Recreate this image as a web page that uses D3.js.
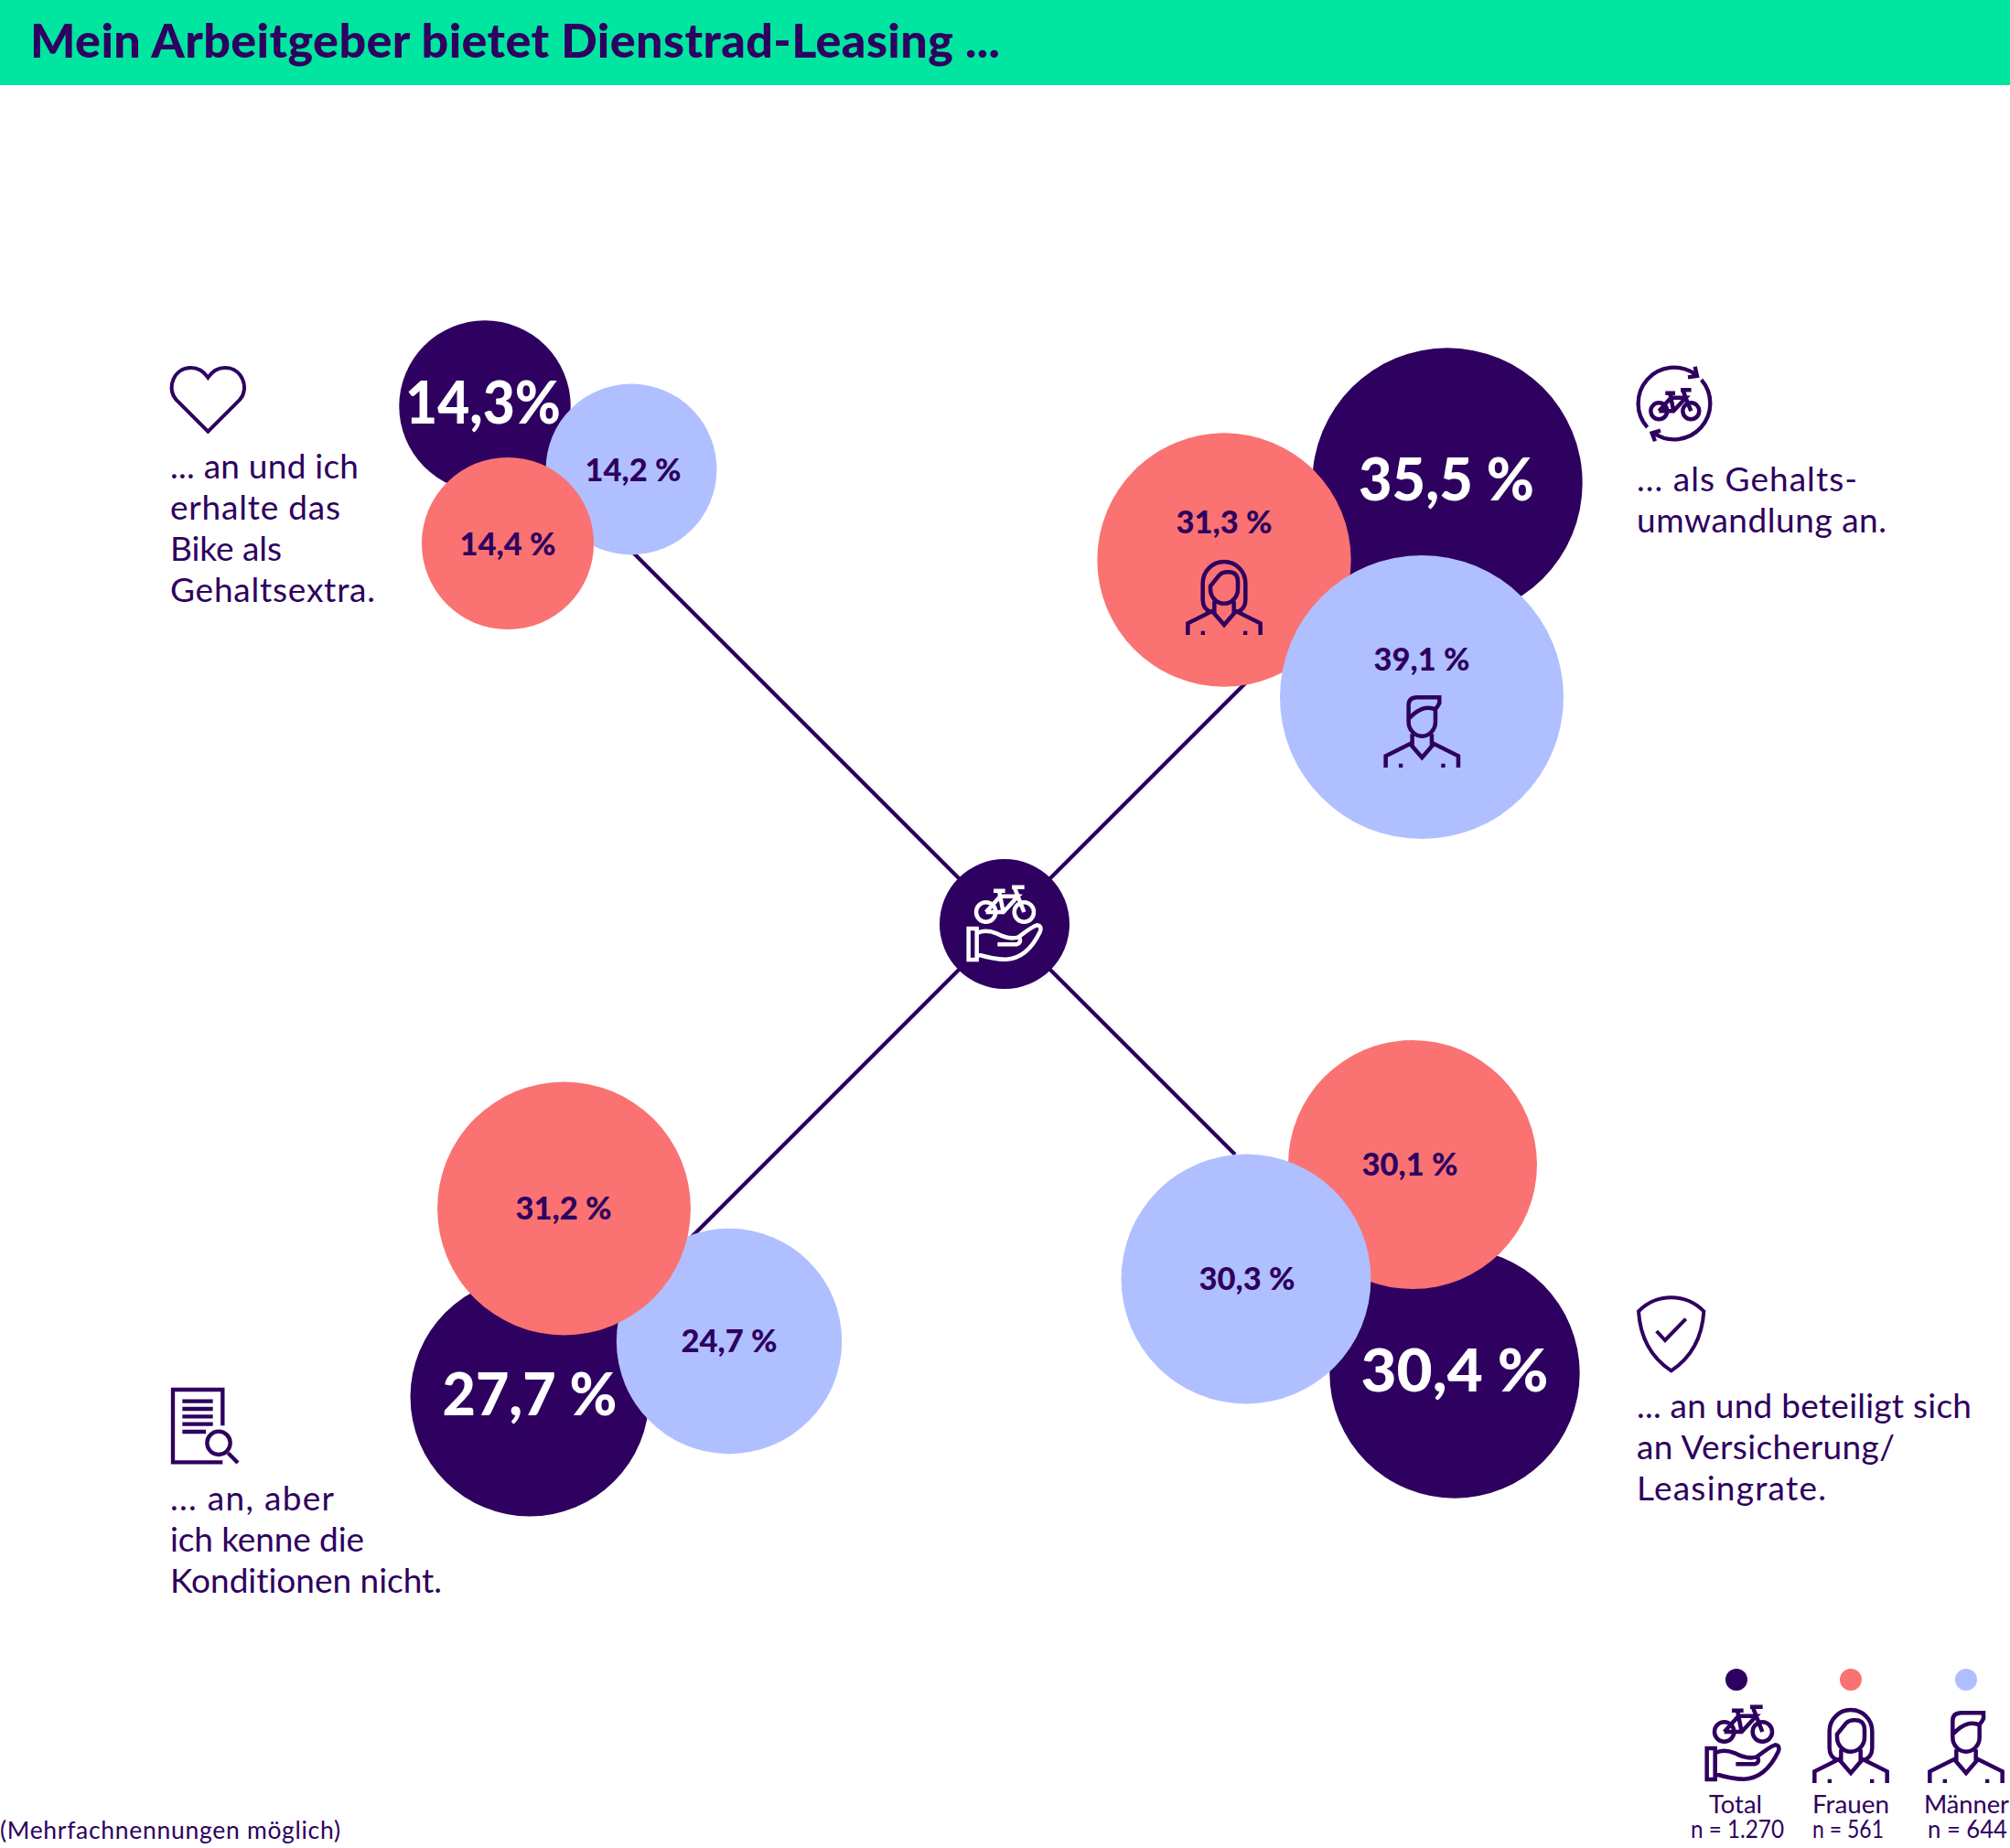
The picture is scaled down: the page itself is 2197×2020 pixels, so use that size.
<!DOCTYPE html>
<html lang="de"><head><meta charset="utf-8">
<style>html,body{margin:0;padding:0;background:#fff}svg{display:block}text{font-family:Lato,sans-serif;font-variant-ligatures:none}</style>
<script src="https://cdn.jsdelivr.net/npm/d3@7"></script></head><body>
<script>
// ---------- data ----------
const titleText = "Mein Arbeitgeber bietet Dienstrad-Leasing ...";
const noteText = "(Mehrfachnennungen möglich)";
const groups = ["Total", "Frauen", "Männer"];
const sampleSizes = ["n = 1.270", "n = 561", "n = 644"];
const categories = ["extra", "umwandlung", "beteiligung", "unbekannt"];
const totalValues = [14.3, 35.5, 30.4, 27.7];
const womenValues = [14.4, 31.3, 30.1, 31.2];
const menValues = [14.2, 39.1, 30.3, 24.7];
const categoryLabels = [
  ["... an und ich", "erhalte das", "Bike als", "Gehaltsextra."],
  ["... als Gehalts-", "umwandlung an."],
  ["... an und beteiligt sich", "an Versicherung/", "Leasingrate."],
  ["... an, aber", "ich kenne die", "Konditionen nicht."]
];

// ---------- layout (separate from data) ----------
const W = 2197, H = 2020;
const C = {ink:"#2E005F", green:"#00E6A0", coral:"#FA7272", blue:"#B0BFFF"};
const colorOf = {Total:C.ink, Frauen:C.coral, "Männer":C.blue};
const r = d3.scaleSqrt().domain([0, 39.1]).range([0, 155]);
const hub = {x:1098, y:1010, r:71};
const lineEnds = [[690,602],[1400,708],[1350,1262],[750,1358]];
const centres = {
  Total:[[530,444],[1582,528],[1590,1501],[579,1527]],
  Frauen:[[555,594],[1338,612],[1544,1273],[616.5,1321]],
  "Männer":[[690,513],[1554,762],[1362,1398],[797,1466]]
};
const order = [["Total","Männer","Frauen"],["Total","Frauen","Männer"],["Total","Frauen","Männer"],["Total","Männer","Frauen"]];
const labelPos = {
  Total:[[528,463],[1581,547],[1590,1521],[579,1547]],
  Frauen:[[555,607],[1338,583],[1541,1285],[616,1333]],
  "Männer":[[692,526],[1554,733],[1363,1410],[797,1478]]
};
const totalWidths = [170,192,205,191];
const textPos = [[186,523],[1789,537],[1789,1550],[186,1651]];
const lineWidths = [[206,186,122,224],[241,273],[366,282,207],[179,212,297]];
const fmt = d3.formatLocale({decimal:",",thousands:".",grouping:[3],currency:["","€"]}).format(".1f");
const valuesOf = {Total:totalValues, Frauen:womenValues, "Männer":menValues};

const svg = d3.select("body").append("svg").attr("width",W).attr("height",H).attr("viewBox",[0,0,W,H]);
svg.append("rect").attr("width",W).attr("height",H).attr("fill","#fff");
svg.append("rect").attr("width",W).attr("height",93).attr("fill",C.green);
svg.append("text").text(titleText).attr("x",33).attr("y",63).attr("fill",C.ink)
  .attr("font-size",52).attr("font-weight",900).attr("textLength",1060).attr("lengthAdjust","spacing");

// spokes + hub
svg.append("g").selectAll("line").data(lineEnds).join("line")
  .attr("x1",hub.x).attr("y1",hub.y).attr("x2",d=>d[0]).attr("y2",d=>d[1])
  .attr("stroke",C.ink).attr("stroke-width",4.2);
svg.append("circle").attr("cx",hub.x).attr("cy",hub.y).attr("r",hub.r).attr("fill",C.ink);

// bubbles
categories.forEach((cat,i)=>{
  const g = svg.append("g").attr("class","bubble-"+cat);
  g.selectAll("circle").data(order[i]).join("circle")
    .attr("cx",k=>centres[k][i][0]).attr("cy",k=>centres[k][i][1])
    .attr("r",k=>r(valuesOf[k][i])).attr("fill",k=>colorOf[k]);
  g.selectAll("text").data(order[i]).join("text")
    .attr("x",k=>labelPos[k][i][0]).attr("y",k=>labelPos[k][i][1])
    .attr("text-anchor","middle").attr("font-weight",900)
    .attr("fill",k=>k==="Total"?"#fff":C.ink)
    .attr("font-size",k=>k==="Total"?65:34.5)
    .each(function(k){ if(k==="Total") d3.select(this).attr("textLength",totalWidths[i]).attr("lengthAdjust","spacingAndGlyphs"); })
    .text(k=>fmt(valuesOf[k][i])+((k==="Total"&&i===0)?"%":" %"));
  svg.append("g").selectAll("text").data(categoryLabels[i]).join("text")
    .attr("x",textPos[i][0]).attr("y",(d,j)=>textPos[i][1]+j*45)
    .attr("fill",C.ink).attr("font-size",37)
    .attr("textLength",(d,j)=>lineWidths[i][j]).attr("lengthAdjust","spacing").text(d=>d);
});

// icons (paths drawn in a 3x grid, so scale is 1/3)
const bike = "M347,280a32,32 0 1 1 -64,0a32,32 0 1 1 64,0M315,280H372L420,228H362L315,280M340,210H378M358,210L372,280M400,198H441M408,198L440,280M472,280a32,32 0 1 1 -64,0a32,32 0 1 1 64,0";
const hand = "M258,334H285V436H258ZM285,350Q312,335 350,350Q390,372 422,362Q465,328 482,323Q500,325 492,345Q450,432 380,435Q340,435 285,418M353,386H415Q432,382 425,363";
const body = "M-119,0V-38L-39,-78L0,-33L39,-78L119,-38V0M-32,-110V-66M32,-110V-66";
const dots = "M-76,-13h13v13h-13zM63,-13h13v13h-13z";
const womanHead = "M-45,-160L-15,-197Q-5,-206 10,-206H15Q45,-206 45,-175V-150A45,47 0 0 1 -45,-150ZM-42,-74Q-70,-85 -70,-115V-170A70,70 0 0 1 70,-170V-115Q70,-85 42,-74";
const manHead = "M-44,-150V-205Q-44,-230 -15,-230H57V-212Q50,-195 38,-190M-44,-160Q-15,-190 10,-195Q30,-198 44,-190V-150A44,47 0 0 1 -44,-150";
const heart = "M202,275L97,170C66,135 88,66 146,66C170,66 190,80 202,98C214,80 234,66 258,66C316,66 338,135 307,170Z";
const shield = "M200,55C150,55 118,75 93,100C98,180 132,250 200,295C268,250 302,180 307,100C282,75 250,55 200,55ZM152,165L180,195L248,125";
const docIcon = "M250,205V87H87V325H250M118,125H218M118,150H218M118,175H218M118,200H218M118,225H195M275,262a38,38 0 1 1 -76,0a38,38 0 1 1 76,0M268,295L300,327";
const cycle = "M121.7,261.3A118,118 0 0 1 277.4,86.1M255,97L285,93L278,62M299,105.6A118,118 0 0 1 142.3,279.7M165,272L137,280L147,307";

function icon(d,x,y,col,k=1/3,sw=13.5){
  return svg.append("path").attr("d",d).attr("transform",`translate(${x},${y}) scale(${k})`)
    .attr("fill","none").attr("stroke",col).attr("stroke-width",sw).attr("stroke-linejoin","miter");
}
function person(head,x,y){
  icon(body+head,x,y,C.ink);
  svg.append("path").attr("d",dots).attr("transform",`translate(${x},${y}) scale(${1/3})`).attr("fill",C.ink);
}
function handBike(x,y,col){ icon(hand+bike,x-376/3,y-316/3,col); }

handBike(hub.x,hub.y-1,"#fff");
person(womanHead,1338,694);
person(manHead,1554.3,839);
icon(heart,160,380,C.ink,1/3,12);
icon(shield,1760,1400,C.ink,1/3,12);
icon(docIcon,160,1490,C.ink,1/3,13);
icon(cycle,1760,380,C.ink,1/3,13);
icon(bike,1725.1,370.9,C.ink,0.28,16);

// legend
const legendDotX = [1898,2023,2149];
const legendNameX = [1868,1981,2103];
const legendNameW = [58,84,93];
const legendNX = [1848,1981,2107];
const legendNW = [102,78,87];
svg.append("g").selectAll("circle").data(groups).join("circle")
  .attr("cx",(d,i)=>legendDotX[i]).attr("cy",1836).attr("r",12).attr("fill",d=>colorOf[d]);
handBike(1905,1905,C.ink);
person(womanHead,2023,1949);
person(manHead,2149,1949);
svg.append("g").selectAll("text").data(groups).join("text")
  .attr("x",(d,i)=>legendNameX[i]).attr("y",1982)
  .attr("fill",C.ink).attr("font-size",26).attr("textLength",(d,i)=>legendNameW[i]).attr("lengthAdjust","spacingAndGlyphs").text(d=>d);
svg.append("g").selectAll("text").data(sampleSizes).join("text")
  .attr("x",(d,i)=>legendNX[i]).attr("y",2009)
  .attr("fill",C.ink).attr("font-size",26).attr("textLength",(d,i)=>legendNW[i]).attr("lengthAdjust","spacingAndGlyphs").text(d=>d);
svg.append("text").text(noteText).attr("x",0).attr("y",2010).attr("fill",C.ink).attr("font-size",26.5)
  .attr("textLength",372).attr("lengthAdjust","spacing");
</script></body></html>
